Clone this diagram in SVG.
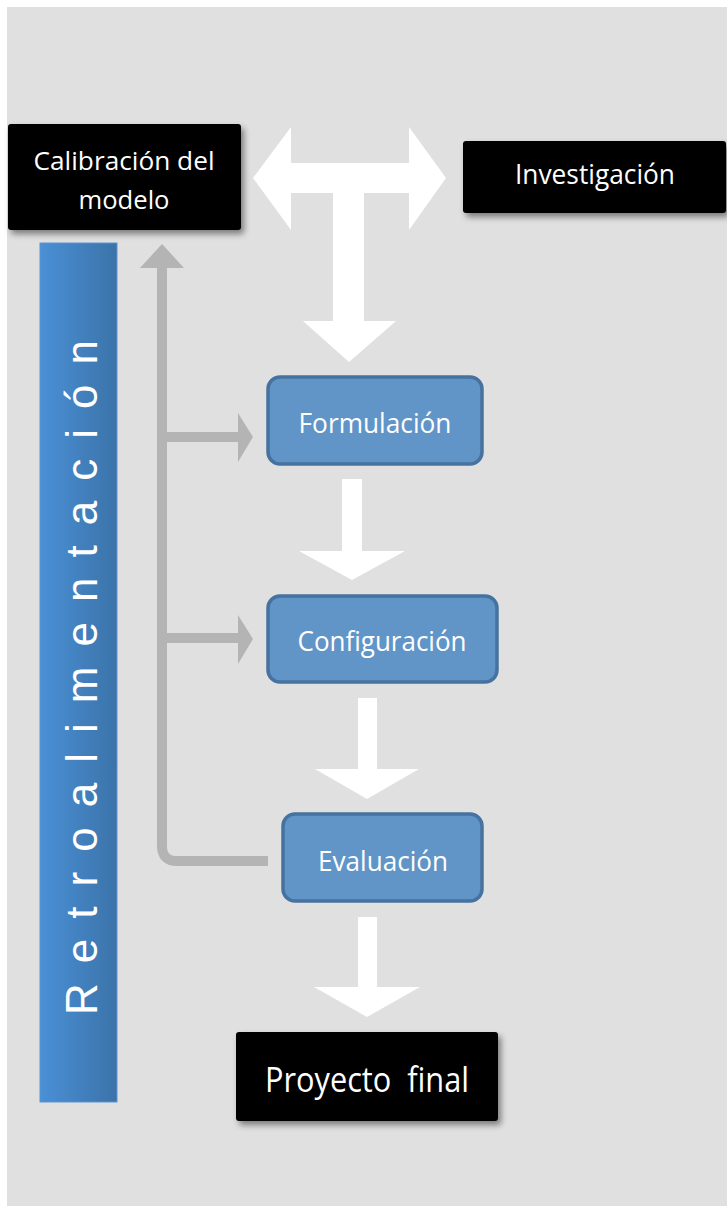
<svg xmlns="http://www.w3.org/2000/svg" width="727" height="1207" viewBox="0 0 727 1207">
<defs>
<filter id="sh" x="-10%" y="-20%" width="125%" height="150%">
<feDropShadow dx="3" dy="4" stdDeviation="3" flood-color="#000" flood-opacity="0.45"/>
</filter>
<linearGradient id="bar" x1="0" y1="0" x2="1" y2="0">
<stop offset="0" stop-color="#4a90d6"/>
<stop offset="1" stop-color="#3b73a9"/>
</linearGradient>
<style>
.black{fill:#000;filter:url(#sh)}
.blue{fill:#6195c8;stroke:#46729f;stroke-width:3.5}
.t{fill:#fff;font-family:"Open Sans","Noto Sans","DejaVu Sans",sans-serif;text-anchor:middle}
.gray{stroke:#b4b4b4;stroke-width:10;fill:none}
.grayhead{fill:#b4b4b4}
.white{fill:#fff}
</style>
</defs>
<rect x="7" y="7" width="720" height="1199" fill="#e0e0e0"/>

<g id="retroalimentacion">
<rect x="40" y="243" width="77" height="859" fill="url(#bar)" stroke="#5b95cf" stroke-width="1"/>
<text transform="translate(97,1015) rotate(-90)" font-family="Liberation Sans, Arial, sans-serif" font-size="44" fill="#fff" textLength="675" lengthAdjust="spacing">R e t r o a l i m e n t a c i ó n</text>
</g>

<g id="connectors">
<polygon class="white" points="253,178 291,127 291,163 409,163 409,127 446,178 409,230 409,193 364,193 364,321 396,321 349,362 303,321 333,321 333,193 291,193 291,230"/>
<polygon class="white" points="342,479 362,479 362,551 405,551 352,580 299,551 342,551"/>
<polygon class="white" points="358,698 377,698 377,769 419,769 367,799 315,769 358,769"/>
<polygon class="white" points="358,917 377,917 377,987 420,987 367,1017 314,987 358,987"/>
<path class="gray" d="M162,266 V846 Q162,861 177,861 H268"/>
<polygon class="grayhead" points="140,268 162,244 184,268"/>
<line class="gray" x1="162" y1="437" x2="240" y2="437"/>
<polygon class="grayhead" points="238,413 253,437 238,462"/>
<line class="gray" x1="162" y1="638" x2="240" y2="638"/>
<polygon class="grayhead" points="238,615 253,639 238,664"/>
</g>

<g id="calibracion">
<rect class="black" x="8" y="124" width="233" height="106" rx="3"/>
<text class="t" x="124" y="170" font-size="26" textLength="181" lengthAdjust="spacingAndGlyphs">Calibración del</text>
<text class="t" x="124" y="209" font-size="26" textLength="91" lengthAdjust="spacingAndGlyphs">modelo</text>
</g>

<g id="investigacion">
<rect class="black" x="463" y="141" width="263" height="72" rx="3"/>
<text class="t" x="595" y="184" font-size="27" textLength="160" lengthAdjust="spacingAndGlyphs">Investigación</text>
</g>

<g id="formulacion">
<rect class="blue" x="268" y="377" width="214" height="87" rx="12"/>
<text class="t" x="375" y="433" font-size="27" textLength="153" lengthAdjust="spacingAndGlyphs">Formulación</text>
</g>

<g id="configuracion">
<rect class="blue" x="268" y="596" width="229" height="86" rx="12"/>
<text class="t" x="382" y="651" font-size="27" textLength="169" lengthAdjust="spacingAndGlyphs">Configuración</text>
</g>

<g id="evaluacion">
<rect class="blue" x="283" y="814" width="199" height="87" rx="12"/>
<text class="t" x="383" y="871" font-size="27" textLength="130" lengthAdjust="spacingAndGlyphs">Evaluación</text>
</g>

<g id="proyecto">
<rect class="black" x="236" y="1032" width="262" height="89" rx="3"/>
<text class="t" x="367" y="1092" font-size="35" textLength="204" lengthAdjust="spacingAndGlyphs" xml:space="preserve">Proyecto  final</text>
</g>
</svg>
